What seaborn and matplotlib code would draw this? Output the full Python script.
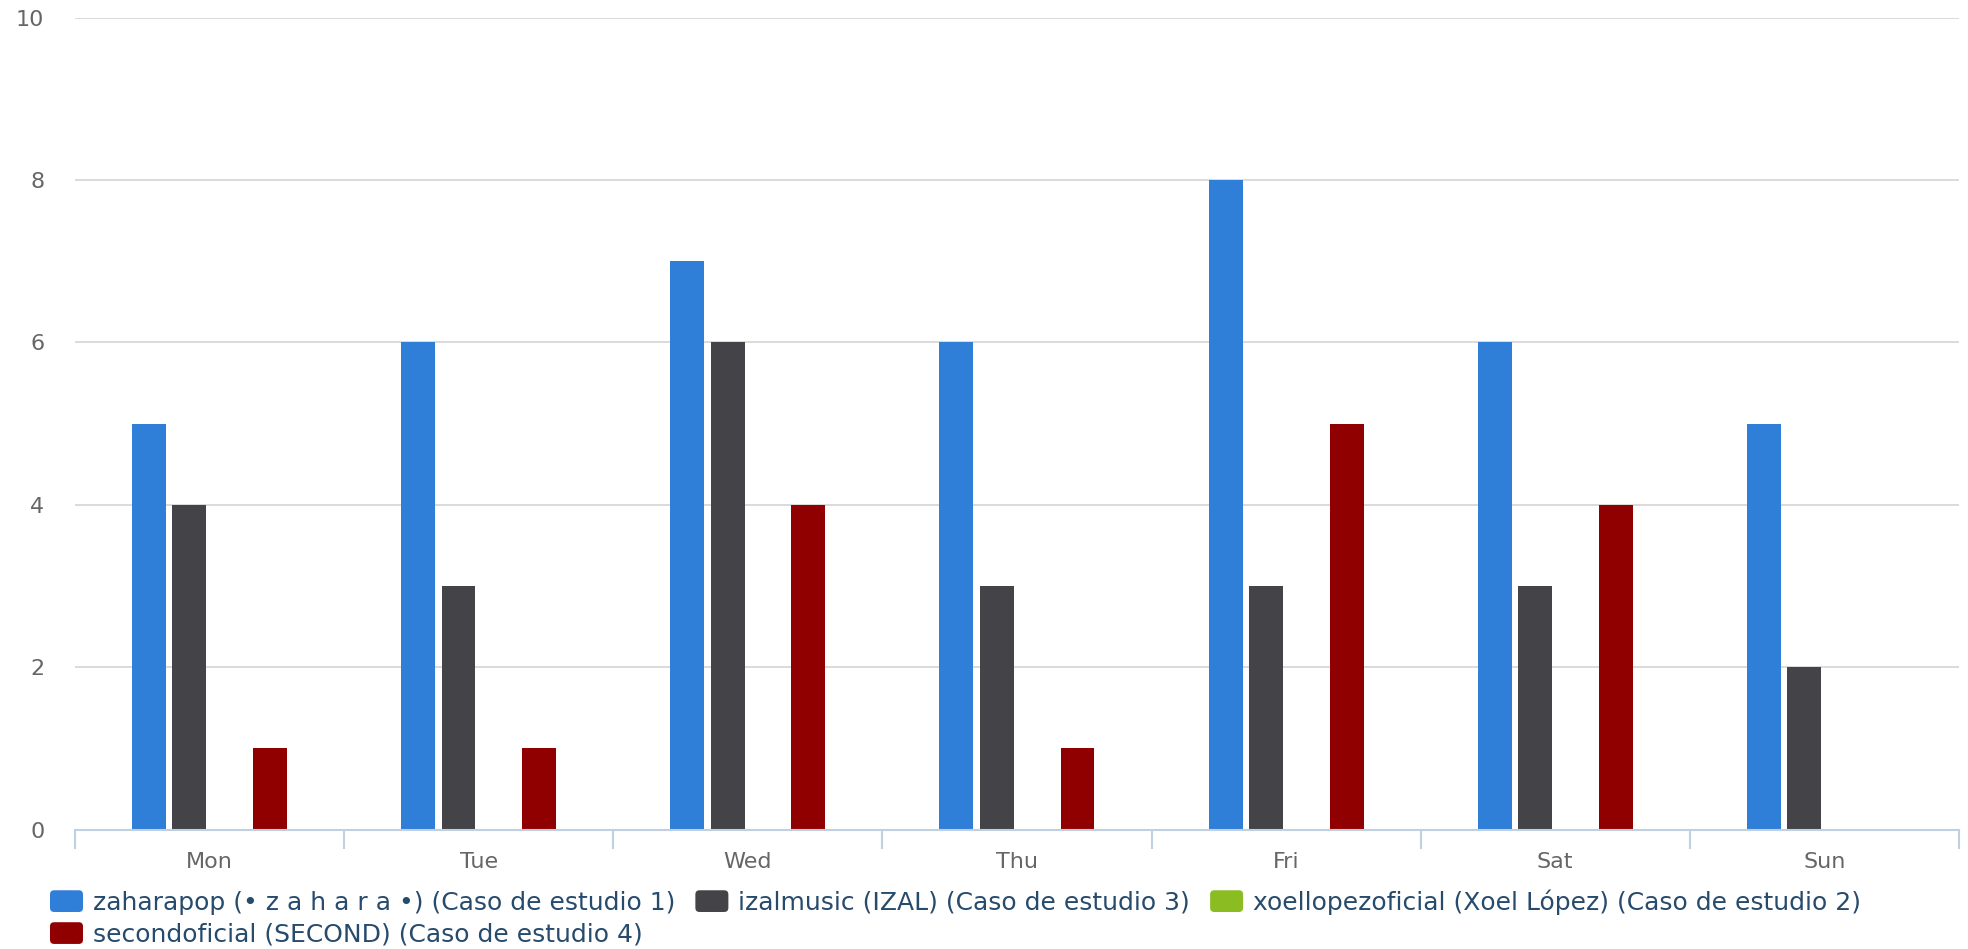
import pandas as pd
import matplotlib
matplotlib.use('Agg')
import matplotlib.pyplot as plt
import seaborn as sns
from matplotlib.patches import FancyBboxPatch, Patch
from matplotlib.legend_handler import HandlerPatch

# ── Data ──
days = ['Mon', 'Tue', 'Wed', 'Thu', 'Fri', 'Sat', 'Sun']
series_names = [
    'zaharapop (• z a h a r a •) (Caso de estudio 1)',
    'izalmusic (IZAL) (Caso de estudio 3)',
    'xoellopezoficial (Xoel López) (Caso de estudio 2)',
    'secondoficial (SECOND) (Caso de estudio 4)',
]
zahara = [5, 6, 7, 6, 8, 6, 5]
izal = [4, 3, 6, 3, 3, 3, 2]
xoel = [0, 0, 0, 0, 0, 0, 0]
second = [1, 1, 4, 1, 5, 4, 0]
colors = ['#2f7ed8', '#434348', '#8bbc21', '#910000']
y_ticks = [0, 2, 4, 6, 8, 10]

rows = []
for name, vals in zip(series_names, [zahara, izal, xoel, second]):
    for d, v in zip(days, vals):
        rows.append({'day': d, 'value': v, 'series': name})
df = pd.DataFrame(rows)

sns.set_theme(style='white')
plt.rcParams['font.family'] = ['DejaVu Sans']

fig = plt.figure(figsize=(19.68, 9.49), dpi=100)
ax = fig.add_axes([0.0381, 0.1258, 0.9573, 0.8557])

sns.barplot(data=df, x='day', y='value', hue='series', hue_order=series_names,
            order=days, palette=colors, width=0.6, gap=0.16, saturation=1,
            errorbar=None, linewidth=0, legend=False, ax=ax)

ax.set_xlim(-0.5, len(days) - 0.5)
ax.set_ylim(0, 10)
ax.set_yticks(y_ticks)
ax.set_xlabel('')
ax.set_ylabel('')

# grid lines
for t in y_ticks[1:]:
    ax.axhline(t, color='#d8d8d8', lw=1.3, zorder=0)
ax.set_axisbelow(True)

for s in ['left', 'top', 'right']:
    ax.spines[s].set_visible(False)
ax.spines['bottom'].set_color('#c0d0e0')
ax.spines['bottom'].set_linewidth(1.5)

ax.tick_params(axis='y', length=0, pad=22, labelsize=16, labelcolor='#666666')
ax.tick_params(axis='x', which='major', length=0, pad=16, labelsize=16, labelcolor='#666666')
# category separators below the axis
ax.set_xticks([i - 0.5 for i in range(len(days) + 1)], minor=True)
ax.tick_params(axis='x', which='minor', bottom=True, direction='out',
               length=13.5, width=1.5, color='#c0d0e0')


# ── Legend with rounded markers ──
def rounded(legend, orig_handle, xdescent, ydescent, width, height, fontsize):
    return FancyBboxPatch((-xdescent, -ydescent), width, height,
                          boxstyle='round,pad=0,rounding_size=3',
                          mutation_aspect=1)


handles = [Patch(facecolor=c, edgecolor='none', label=n) for c, n in zip(colors, series_names)]
order = [0, 3, 1, 2]
leg = fig.legend([handles[i] for i in order], [series_names[i] for i in order],
                 loc='upper left', bbox_to_anchor=(0.0254, 0.063), ncol=3,
                 frameon=False, fontsize=18, handlelength=1.32, handleheight=0.96,
                 handletextpad=0.4, columnspacing=0.8, labelspacing=0.3,
                 borderpad=0, borderaxespad=0,
                 handler_map={Patch: HandlerPatch(patch_func=rounded)})
for t in leg.get_texts():
    t.set_color('#274b6d')

fig.savefig('out.png', dpi=100)
